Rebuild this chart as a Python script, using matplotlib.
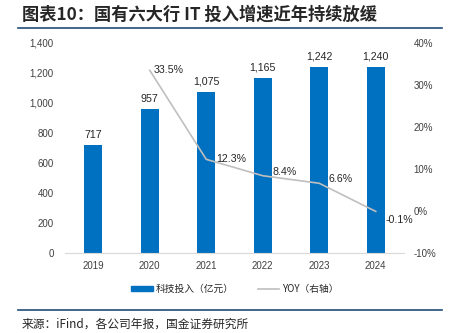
import matplotlib
matplotlib.use("Agg")
import matplotlib.pyplot as plt
from matplotlib.lines import Line2D
from matplotlib.ticker import FuncFormatter, MultipleLocator

plt.rcParams['font.family'] = ['Noto Sans CJK SC', 'DejaVu Sans']

years = ["2019", "2020", "2021", "2022", "2023", "2024"]
invest = [717, 957, 1075, 1165, 1242, 1240]
yoy_years = ["2020", "2021", "2022", "2023", "2024"]
yoy = [33.5, 12.3, 8.4, 6.6, -0.1]

bar_color = "#0070C0"
line_color = "#BFBFBF"
text_color = "#404040"
rule_color = "#1F4E79"

W, H = 455, 333
fig = plt.figure(figsize=(W / 100, H / 100), dpi=100)
ax = fig.add_axes([65 / W, (H - 253) / H, (404 - 65) / W, (253 - 43) / H])
ax2 = ax.twinx()

x = list(range(len(years)))
ax.bar(x, invest, width=0.31, color=bar_color, zorder=2)
for xi, v in zip(x, invest):
    ax.annotate(f"{v:,}", (xi, v), xytext=(0, 4), textcoords="offset points",
                ha="center", va="bottom", fontsize=7.7, color="#262626",
                family=["Liberation Sans", "DejaVu Sans"])

ax.set_xlim(-0.5, len(years) - 0.5)
ax.set_ylim(0, 1400)
ax.yaxis.set_major_locator(MultipleLocator(200))
ax.yaxis.set_major_formatter(FuncFormatter(lambda v, p: f"{int(v):,}"))
ax.set_xticks(x)
ax.set_xticklabels(years)
for s in ["top", "left", "right"]:
    ax.spines[s].set_visible(False)
ax.spines["bottom"].set_color("#D9D9D9")
ax.spines["bottom"].set_linewidth(0.8)
ax.tick_params(axis="both", length=0, labelsize=7, colors=text_color)
ax.tick_params(axis="y", pad=8)
ax.tick_params(axis="x", pad=6)
for lab in ax.get_xticklabels() + ax.get_yticklabels():
    lab.set_family(["Liberation Sans", "DejaVu Sans"])

xl = [years.index(y) for y in yoy_years]
ax2.plot(xl, yoy, color=line_color, lw=1.2, zorder=3)
for i, (xi, v) in enumerate(zip(xl, yoy)):
    dx = 3 if i == 0 else 7
    dy = -6 if v < 0 else (0 if i < 2 else 3)
    ax2.annotate(f"{v:.1f}%", (xi, v), xytext=(dx, dy), textcoords="offset points",
                 ha="left", va="center", fontsize=7.7, color="#262626",
                 family=["Liberation Sans", "DejaVu Sans"])
ax2.set_ylim(-10, 40)
ax2.yaxis.set_major_locator(MultipleLocator(10))
ax2.yaxis.set_major_formatter(FuncFormatter(lambda v, p: f"{int(round(v))}%"))
for s in ["top", "left", "right", "bottom"]:
    ax2.spines[s].set_visible(False)
ax2.tick_params(axis="y", length=0, labelsize=7, colors=text_color, pad=7)
for lab in ax2.get_yticklabels():
    lab.set_family(["Liberation Sans", "DejaVu Sans"])

# title
fig.text(22 / W, 1 - 15 / H, "图表10：国有六大行 IT 投入增速近年持续放缓", fontsize=12.4,
         ha="left", va="center", color="#262626", fontweight="bold", style="italic")
fig.add_artist(Line2D([18 / W, 442 / W], [1 - 28 / H, 1 - 28 / H], color=rule_color, lw=1.2))
fig.add_artist(Line2D([18 / W, 442 / W], [1 - 310 / H, 1 - 310 / H], color=rule_color, lw=1.2))
fig.text(22 / W, 1 - 324 / H, "来源：iFind，各公司年报，国金证券研究所", fontsize=8.5,
         ha="left", va="center", color="#262626")

handles = [plt.Rectangle((0, 0), 1, 1, color=bar_color),
           Line2D([0], [0], color=line_color, lw=1.2)]
fig.legend(handles, ["科技投入（亿元）", "YOY（右轴）"], loc="center",
           bbox_to_anchor=(235 / W, 1 - 289 / H), ncol=2, frameon=False,
           fontsize=7, handlelength=2.2, handleheight=0.5, columnspacing=2.5,
           handletextpad=0.3, labelcolor="#262626")

fig.savefig("out.png", dpi=100)
